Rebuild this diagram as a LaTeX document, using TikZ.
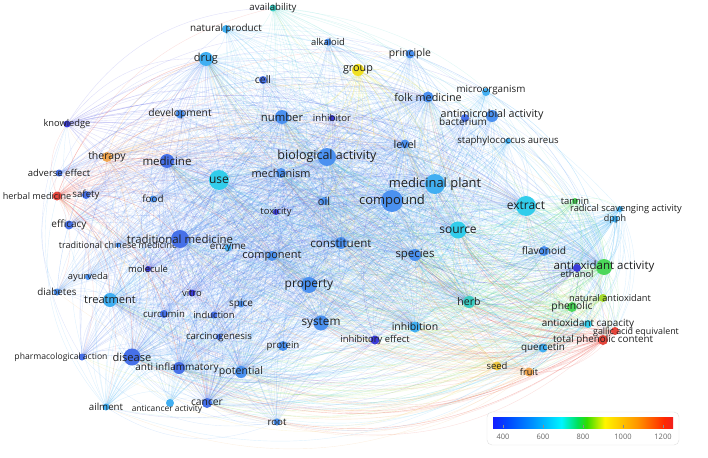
\documentclass[tikz,border=0pt]{standalone}
\usepackage{fontspec}
\setmainfont{Open Sans}
\pgfdeclarelayer{edges}
\pgfsetlayers{edges,main}

% overlay colour scale (400 -> 1200)
\definecolor{v400}{RGB}{60,60,218}
\definecolor{v450}{RGB}{70,112,232}
\definecolor{v500}{RGB}{75,145,240}
\definecolor{v550}{RGB}{65,175,242}
\definecolor{v650}{RGB}{50,205,235}
\definecolor{v700}{RGB}{60,205,195}
\definecolor{v800}{RGB}{75,215,90}
\definecolor{v850}{RGB}{165,220,45}
\definecolor{v900}{RGB}{240,225,35}
\definecolor{v950}{RGB}{240,200,65}
\definecolor{v1000}{RGB}{240,165,80}
\definecolor{v1200}{RGB}{230,70,60}

\definecolor{s0}{RGB}{20,30,255}
\definecolor{s1}{RGB}{0,70,255}
\definecolor{s2}{RGB}{0,145,255}
\definecolor{s3}{RGB}{0,245,255}
\definecolor{s4}{RGB}{0,225,90}
\definecolor{s5}{RGB}{50,220,0}
\definecolor{s6}{RGB}{255,245,0}
\definecolor{s7}{RGB}{255,150,0}
\definecolor{s8}{RGB}{255,40,0}
\definecolor{s9}{RGB}{240,30,30}
\pgfdeclarehorizontalshading{vos}{100bp}{color(0bp)=(s0); color(25bp)=(s0); color(29bp)=(s1); color(36bp)=(s2); color(44bp)=(s3); color(48.5bp)=(s4); color(51bp)=(s5); color(56bp)=(s6); color(65bp)=(s7); color(72.5bp)=(s8); color(75bp)=(s9); color(100bp)=(s9)}

\tikzset{
  kw/.style={circle,inner sep=0pt,minimum size=#1},
  lb/.style={font=\fontsize{#1}{#1}\selectfont,text=black!88},
  edge/.style={line width=.4pt,draw opacity=.17,bend left=28},
  legbox/.style={draw=black!12,rounded corners=5pt,fill=white,minimum width=192,minimum height=33},
}

\def\allkw{avail/v700,natprod/v550,drug/v550,alk/v500,princ/v500,group/v900,cell/v450,devel/v500,knowl/v400,num/v500,inhib/v400,folk/v500,micro/v550,antimic/v500,bact/v450,staph/v550,level/v500,bio/v500,mech/v500,ther/v1000,adv/v450,herbmed/v1200,safety/v450,med/v450,use/v650,food/v500,effic/v450,tcm/v500,tmed/v450,enz/v550,comp/v500,oil/v500,tox/v400,cmpd/v500,mplant/v550,const/v500,spec/v500,src/v650,extr/v650,tannin/v800,rsa/v550,dpph/v550,flav/v500,aoa/v800,eth/v400,herb/v700,natao/v850,phen/v800,aocap/v650,gae/v1200,tpc/v1200,querc/v550,seed/v950,fruit/v1000,inhibn/v550,inhef/v400,sys/v500,prot/v500,pot/v500,root/v500,prop/v500,spice/v500,induc/v450,vitro/v400,curc/v450,molec/v400,ayur/v500,diab/v500,treat/v550,carc/v450,dis/v450,pharm/v450,antiinf/v450,ail/v550,antican/v550,cancer/v450}
\def\hubs{cmpd,bio,mplant,use,extr,src,prop,dis,tmed,med,drug,num,sys,spec,const,treat,pot,mech,comp,herb,aoa,inhibn,folk,level,cancer,antiinf,oil}
\def\aocl{extr,tannin,rsa,dpph,flav,aoa,eth,herb,natao,phen,aocap,gae,tpc,querc,seed,fruit,src,spec}

\begin{document}
\begin{tikzpicture}[x=1pt,y=-1pt]
\useasboundingbox (0,0) rectangle (708,457);

% keywords
\node[kw=7,fill=v700,label={[lb=9.6]center:availability}] (avail) at (273,8) {};
\node[kw=8,fill=v550,label={[lb=9.9]center:natural product}] (natprod) at (226,29) {};
\node[kw=14,fill=v550,label={[lb=11]center:drug}] (drug) at (206,59) {};
\node[kw=7,fill=v500,label={[lb=9.4]center:alkaloid}] (alk) at (328,42) {};
\node[kw=9,fill=v500,label={[lb=10.4]center:principle}] (princ) at (410,54) {};
\node[kw=12,fill=v900,label={[lb=10.8]center:group}] (group) at (358,70) {};
\node[kw=8,fill=v450,label={[lb=10.4]center:cell}] (cell) at (263,80) {};
\node[kw=9,fill=v500,label={[lb=10.3]center:development}] (devel) at (180,114) {};
\node[kw=7,fill=v400,label={[lb=9.3]center:knowledge}] (knowl) at (67,124) {};
\node[kw=14,fill=v500,label={[lb=11.3]center:number}] (num) at (282,117) {};
\node[kw=6,fill=v400,label={[lb=9.6]center:inhibitor}] (inhib) at (332,118) {};
\node[kw=11,fill=v500,label={[lb=10.8]center:folk medicine}] (folk) at (428,97) {};
\node[kw=8,fill=v550,label={[lb=9.8,xshift=5,yshift=2]center:microorganism}] (micro) at (486,92) {};
\node[kw=8,fill=v450,label={[lb=10,xshift=-2,yshift=-4]center:bacterium}] (bact) at (465,118) {};
\node[kw=12,fill=v500,label={[lb=10.7,yshift=1]center:antimicrobial activity}] (antimic) at (492,116) {};
\node[kw=6,fill=v550,label={[lb=9.6]center:staphylococcus aureus}] (staph) at (508,141) {};
\node[kw=9,fill=v500,label={[lb=10.8]center:level}] (level) at (405,144) {};
\node[kw=18,fill=v500,label={[lb=12.5,yshift=1]center:biological activity}] (bio) at (327,157) {};
\node[kw=10,fill=v500,label={[lb=10.9]center:mechanism}] (mech) at (281,173) {};
\node[kw=10,fill=v1000,label={[lb=10.5]center:therapy}] (ther) at (107,157) {};
\node[kw=7,fill=v450,label={[lb=9.5]center:adverse effect}] (adv) at (59,173) {};
\node[kw=9,fill=v1200,label={[lb=9.1,xshift=-20]center:herbal medicine}] (herbmed) at (57,196) {};
\node[kw=8,fill=v450,label={[lb=9.7]center:safety}] (safety) at (86,195) {};
\node[kw=14,fill=v450,label={[lb=11.5]center:medicine}] (med) at (167,161) {};
\node[kw=20,fill=v650,label={[lb=12]center:use}] (use) at (219,180) {};
\node[kw=7,fill=v500,label={[lb=9.8]center:food}] (food) at (153,199) {};
\node[kw=9,fill=v450,label={[lb=10]center:efficacy}] (effic) at (69,225) {};
\node[kw=5,fill=v500,label={[lb=9]center:traditional chinese medicine}] (tcm) at (118,245) {};
\node[kw=18,fill=v450,label={[lb=11.4]center:traditional medicine}] (tmed) at (180,239) {};
\node[kw=7,fill=v550,label={[lb=9.9]center:enzyme}] (enz) at (228,248) {};
\node[kw=10,fill=v500,label={[lb=11]center:component}] (comp) at (272,256) {};
\node[kw=8,fill=v500,label={[lb=10.9]center:oil}] (oil) at (324,201) {};
\node[kw=6,fill=v400,label={[lb=9.4]center:toxicity}] (tox) at (276,212) {};
\node[kw=22,fill=v500,label={[lb=13]center:compound}] (cmpd) at (392,201) {};
\node[kw=20,fill=v550,label={[lb=12.9]center:medicinal plant}] (mplant) at (435,184) {};
\node[kw=12,fill=v500,label={[lb=11.6]center:constituent}] (const) at (341,243) {};
\node[kw=12,fill=v500,label={[lb=11.4]center:species}] (spec) at (415,255) {};
\node[kw=17,fill=v650,label={[lb=12]center:source}] (src) at (458,230) {};
\node[kw=20,fill=v650,label={[lb=12]center:extract}] (extr) at (526,206) {};
\node[kw=6,fill=v800,label={[lb=9.4]center:tannin}] (tannin) at (575,201) {};
\node[kw=6,fill=v550,label={[lb=9.3,xshift=6]center:radical scavenging activity}] (rsa) at (620,209) {};
\node[kw=7,fill=v550,label={[lb=9]center:dpph}] (dpph) at (615,219) {};
\node[kw=10,fill=v500,label={[lb=10.2]center:flavonoid}] (flav) at (544,251) {};
\node[kw=16,fill=v800,label={[lb=11.5]center:antioxidant activity}] (aoa) at (604,267) {};
\node[kw=8,fill=v400,label={[lb=9.3,yshift=-6]center:ethanol}] (eth) at (577,268) {};
\node[kw=12,fill=v700,label={[lb=10.5]center:herb}] (herb) at (469,302) {};
\node[kw=8,fill=v850,label={[lb=9.2,xshift=7]center:natural antioxidant}] (natao) at (603,298) {};
\node[kw=10,fill=v800,label={[lb=10.3]center:phenolic}] (phen) at (572,307) {};
\node[kw=8,fill=v650,label={[lb=9.9]center:antioxidant capacity}] (aocap) at (588,324) {};
\node[kw=8,fill=v1200,label={[lb=8.9,xshift=21,yshift=-1]center:gallic acid equivalent}] (gae) at (615,331) {};
\node[kw=10,fill=v1200,label={[lb=9.8]center:total phenolic content}] (tpc) at (603,340) {};
\node[kw=9,fill=v550,label={[lb=9.9]center:quercetin}] (querc) at (543,348) {};
\node[kw=9,fill=v950,label={[lb=9.5]center:seed}] (seed) at (497,366) {};
\node[kw=9,fill=v1000,label={[lb=9.2]center:fruit}] (fruit) at (529,372) {};
\node[kw=11,fill=v550,label={[lb=10.5]center:inhibition}] (inhibn) at (415,327) {};
\node[kw=9,fill=v400,label={[lb=9.4]center:inhibitory effect}] (inhef) at (375,340) {};
\node[kw=15,fill=v500,label={[lb=11.8]center:system}] (sys) at (321,323) {};
\node[kw=10,fill=v500,label={[lb=9.7]center:protein}] (prot) at (283,346) {};
\node[kw=12,fill=v500,label={[lb=10.6]center:potential}] (pot) at (241,372) {};
\node[kw=7,fill=v500,label={[lb=9.7]center:root}] (root) at (277,422) {};
\node[kw=16,fill=v500,label={[lb=12]center:property}] (prop) at (309,285) {};
\node[kw=7,fill=v500,label={[lb=10]center:spice}] (spice) at (241,304) {};
\node[kw=7,fill=v450,label={[lb=9.4]center:induction}] (induc) at (214,315) {};
\node[kw=7,fill=v400,label={[lb=9.5]center:vitro}] (vitro) at (192,293) {};
\node[kw=8,fill=v450,label={[lb=9.6]center:curcumin}] (curc) at (164,314) {};
\node[kw=6,fill=v400,label={[lb=9.4]center:molecule}] (molec) at (148,269) {};
\node[kw=6,fill=v500,label={[lb=9.3]center:ayurveda}] (ayur) at (88,277) {};
\node[kw=7,fill=v500,label={[lb=9.8]center:diabetes}] (diab) at (57,292) {};
\node[kw=14,fill=v550,label={[lb=11.1]center:treatment}] (treat) at (110,300) {};
\node[kw=6,fill=v450,label={[lb=9.6]center:carcinogenesis}] (carc) at (219,337) {};
\node[kw=17,fill=v450,label={[lb=11.1]center:disease}] (dis) at (132,357) {};
\node[kw=7,fill=v450,label={[lb=8.6,xshift=-21]center:pharmacological action}] (pharm) at (82,357) {};
\node[kw=12,fill=v450,label={[lb=10,xshift=-2]center:anti inflammatory}] (antiinf) at (179,368) {};
\node[kw=7,fill=v550,label={[lb=9.7]center:ailment}] (ail) at (106,407) {};
\node[kw=8,fill=v550,label={[lb=8.4,xshift=-3,yshift=-6]center:anticancer activity}] (antican) at (170,403) {};
\node[kw=10,fill=v450,label={[lb=10.3]center:cancer}] (cancer) at (207,403) {};

% links
\begin{pgfonlayer}{edges}
\foreach \a/\col in \allkw {
  \foreach \h in \hubs {
    \draw[edge,draw=\col] (\a.center) to (\h.center);
  }
}
\foreach \a/\col [count=\i] in {extr/v650,tannin/v800,rsa/v550,dpph/v550,flav/v500,aoa/v800,eth/v400,herb/v700,natao/v850,phen/v800,aocap/v650,gae/v1200,tpc/v1200,querc/v550,seed/v950,fruit/v1000,src/v650,spec/v500} {
  \foreach \b [count=\j] in \aocl {
    \ifnum\j>\i \draw[edge,draw=\col] (\a.center) to (\b.center); \fi
  }
}
\foreach \b in {adv,safety,effic,tcm,ayur,diab,treat,molec,food,knowl,pharm,curc,vitro,tmed,med,dis,ail,antiinf,cancer,devel,drug,use}
  \draw[edge,draw=v1200] (herbmed.center) to (\b.center);
\foreach \b in {adv,safety,knowl,effic,tmed,med,use,dis,treat,devel,drug,diab,ayur,tcm,food}
  \draw[edge,draw=v1000] (ther.center) to (\b.center);
\foreach \b in {level,folk,princ,inhib,alk,cell,bio,mech,oil,const,cmpd,num,mplant,avail}
  \draw[edge,draw=v900] (group.center) to (\b.center);
% outer arcs, clockwise
\foreach \a/\b/\col in {knowl/staph/v400,knowl/micro/v400,knowl/extr/v400,adv/folk/v450,herbmed/princ/v1200,herbmed/avail/v1200,ther/tannin/v1000,drug/rsa/v550,natprod/dpph/v550,avail/tannin/v700,natprod/aoa/v550,devel/extr/v500,knowl/princ/v400,knowl/avail/v400,ther/extr/v1000,ther/aoa/v1000,
  micro/fruit/v550,staph/tpc/v550,rsa/seed/v550,dpph/fruit/v550,tannin/querc/v800,princ/aoa/v500,avail/natao/v700,staph/gae/v550,micro/aoa/v550,
  fruit/ail/v1000,seed/pharm/v950,tpc/root/v1200,gae/cancer/v1200,fruit/root/v1000,querc/ail/v550,aocap/dis/v650,natao/pharm/v850,seed/antican/v950,fruit/diab/v1000,inhef/ail/v400,fruit/herbmed/v1000,tpc/herbmed/v1200,gae/herbmed/v1200,seed/herbmed/v950,aoa/herbmed/v800,root/pharm/v500,root/ail/v500,tpc/dis/v1200,herb/ail/v700,querc/root/v550,
  ail/knowl/v550,pharm/knowl/v450,diab/adv/v500,root/knowl/v500,cancer/ther/v450,ail/herbmed/v550,pharm/natprod/v450,diab/drug/v500,ail/ther/v550,antican/knowl/v550}
  \draw[edge,draw=\col] (\a.center) to (\b.center);
\end{pgfonlayer}

% colour scale
\node[legbox] (legend) at (583,428.5) {};
\node[shade,shading=vos,inner sep=0pt,minimum width=180,minimum height=11] (bar) at (583,422.5) {};
\foreach \v/\x in {400/503,600/543,800/583,1000/623,1200/663} {
  \draw[black!45,line width=.4pt] (\x,424.5) -- (\x,428);
  \node[font=\fontsize{7.5}{7.5}\selectfont,text=black!60] (tk\v) at (\x,437) {\v};
}
\end{tikzpicture}
\end{document}
